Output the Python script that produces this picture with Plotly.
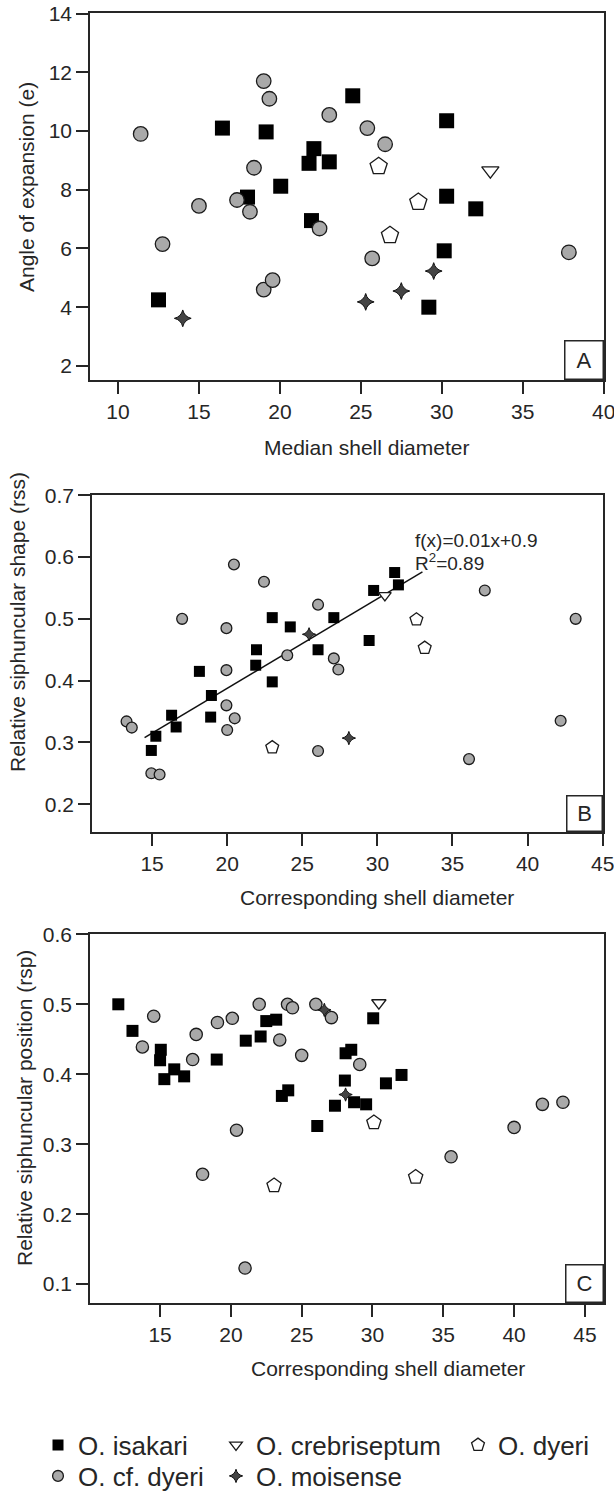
import plotly.graph_objects as go

W, H = 614, 1494
FONT = "Liberation Sans, Arial, Helvetica, sans-serif"
INK = "#262626"

SPECIES = ["O. isakari", "O. cf. dyeri", "O. dyeri", "O. crebriseptum", "O. moisense"]

# ---------------- Panel A : angle of expansion vs median shell diameter
a_isakari_x = [12.5, 16.45, 18.0, 19.15, 20.05, 21.8, 21.95, 22.1, 23.05, 24.5, 29.2, 30.15, 30.3, 30.3, 32.1]
a_isakari_y = [4.25, 10.1, 7.75, 9.97, 8.12, 8.9, 6.95, 9.4, 8.95, 11.2, 4.0, 5.92, 10.35, 7.78, 7.35]
a_cfdyeri_x = [11.4, 12.75, 15.0, 17.35, 18.15, 18.4, 19.0, 19.35, 19.0, 19.55, 22.45, 23.05, 25.4, 26.5, 25.7, 37.85]
a_cfdyeri_y = [9.9, 6.15, 7.45, 7.65, 7.25, 8.75, 11.7, 11.1, 4.6, 4.92, 6.68, 10.55, 10.1, 9.55, 5.66, 5.87]
a_dyeri_x = [26.1, 28.55, 26.8]
a_dyeri_y = [8.8, 7.58, 6.45]
a_crebri_x = [33.0]
a_crebri_y = [8.65]
a_moisense_x = [14.0, 25.3, 27.5, 29.5]
a_moisense_y = [3.62, 4.18, 4.55, 5.23]

# ---------------- Panel B : relative siphuncular shape vs corresponding shell diameter
b_isakari_x = [14.95, 15.25, 16.3, 16.6, 18.15, 18.95, 18.9, 21.95, 21.9, 23.0, 23.0, 24.2, 26.05, 27.1, 29.45, 29.75, 31.15, 31.4]
b_isakari_y = [0.287, 0.31, 0.344, 0.325, 0.415, 0.376, 0.341, 0.45, 0.425, 0.502, 0.398, 0.487, 0.45, 0.502, 0.465, 0.546, 0.575, 0.555]
b_cfdyeri_x = [13.3, 13.65, 14.95, 15.5, 17.0, 20.45, 22.45, 19.95, 19.95, 19.95, 20.5, 20.0, 24.0, 26.05, 26.05, 27.1, 27.4, 37.15, 43.2, 42.2, 36.1]
b_cfdyeri_y = [0.334, 0.324, 0.25, 0.248, 0.5, 0.588, 0.56, 0.485, 0.417, 0.36, 0.339, 0.32, 0.441, 0.523, 0.286, 0.436, 0.418, 0.546, 0.5, 0.335, 0.273]
b_dyeri_x = [23.0, 32.6, 33.15]
b_dyeri_y = [0.292, 0.499, 0.453]
b_crebri_x = [30.5]
b_crebri_y = [0.538]
b_moisense_x = [25.45, 28.1]
b_moisense_y = [0.475, 0.307]
b_fit_slope = 0.0145
b_fit_intercept = 0.0975
b_fit_x = [14.5, 33.0]
b_fit_label = ["f(x)=0.01x+0.9", "R<sup>2</sup>=0.89"]

# ---------------- Panel C : relative siphuncular position vs corresponding shell diameter
c_isakari_x = [12.05, 13.05, 15.05, 15.0, 15.3, 16.0, 16.7, 19.0, 21.05, 22.1, 22.5, 23.2, 23.6, 24.05, 26.1, 27.35, 28.05, 28.1, 28.5, 28.7, 29.55, 30.05, 30.95, 32.05]
c_isakari_y = [0.50, 0.462, 0.435, 0.42, 0.393, 0.407, 0.397, 0.421, 0.448, 0.454, 0.476, 0.478, 0.369, 0.377, 0.326, 0.355, 0.391, 0.43, 0.435, 0.36, 0.357, 0.48, 0.387, 0.399]
c_cfdyeri_x = [13.75, 14.55, 17.3, 17.55, 19.05, 20.1, 22.0, 24.0, 24.35, 23.45, 25.0, 26.0, 27.1, 29.1, 20.4, 18.0, 21.0, 35.55, 40.0, 42.0, 43.45]
c_cfdyeri_y = [0.439, 0.483, 0.421, 0.457, 0.474, 0.48, 0.50, 0.50, 0.495, 0.449, 0.427, 0.50, 0.481, 0.414, 0.32, 0.257, 0.123, 0.282, 0.324, 0.357, 0.36]
c_dyeri_x = [23.05, 30.1, 33.05]
c_dyeri_y = [0.241, 0.331, 0.253]
c_crebri_x = [30.45]
c_crebri_y = [0.502]
c_moisense_x = [26.6, 28.1]
c_moisense_y = [0.492, 0.371]

# axis ticks / titles
a_xticks = [10, 15, 20, 25, 30, 35, 40]
a_yticks = [2, 4, 6, 8, 10, 12, 14]
b_xticks = [15, 20, 25, 30, 35, 40, 45]
b_yticks = [0.2, 0.3, 0.4, 0.5, 0.6, 0.7]
c_xticks = [15, 20, 25, 30, 35, 40, 45]
c_yticks = [0.1, 0.2, 0.3, 0.4, 0.5, 0.6]
titles = {
    "A": ("Median shell diameter", "Angle of expansion (e)"),
    "B": ("Corresponding shell diameter", "Relative siphuncular shape (rss)"),
    "C": ("Corresponding shell diameter", "Relative siphuncular position (rsp)"),
}

# ---------------- styling
STYLE = {
    "O. isakari": dict(symbol="square", color="#000000", line=dict(color="#000000", width=0)),
    "O. cf. dyeri": dict(symbol="circle", color="#a9a9a9", line=dict(color="#1a1a1a", width=1.3)),
    "O. dyeri": dict(symbol="pentagon", color="#ffffff", line=dict(color="#1a1a1a", width=1.3)),
    "O. crebriseptum": dict(symbol="triangle-down", color="#ffffff", line=dict(color="#1a1a1a", width=1.3)),
    "O. moisense": dict(symbol="star-diamond", color="#444444", line=dict(color="#111111", width=1.0)),
}
SIZES = {
    "A": {"O. isakari": 15, "O. cf. dyeri": 14.5, "O. dyeri": 18, "O. crebriseptum": 15, "O. moisense": 12},
    "B": {"O. isakari": 11, "O. cf. dyeri": 10.8, "O. dyeri": 13.5, "O. crebriseptum": 11, "O. moisense": 9.5},
    "C": {"O. isakari": 12, "O. cf. dyeri": 12.3, "O. dyeri": 15, "O. crebriseptum": 12.5, "O. moisense": 9.5},
}
DATA = {
    "A": {"O. isakari": (a_isakari_x, a_isakari_y), "O. cf. dyeri": (a_cfdyeri_x, a_cfdyeri_y),
          "O. dyeri": (a_dyeri_x, a_dyeri_y), "O. crebriseptum": (a_crebri_x, a_crebri_y),
          "O. moisense": (a_moisense_x, a_moisense_y)},
    "B": {"O. isakari": (b_isakari_x, b_isakari_y), "O. cf. dyeri": (b_cfdyeri_x, b_cfdyeri_y),
          "O. dyeri": (b_dyeri_x, b_dyeri_y), "O. crebriseptum": (b_crebri_x, b_crebri_y),
          "O. moisense": (b_moisense_x, b_moisense_y)},
    "C": {"O. isakari": (c_isakari_x, c_isakari_y), "O. cf. dyeri": (c_cfdyeri_x, c_cfdyeri_y),
          "O. dyeri": (c_dyeri_x, c_dyeri_y), "O. crebriseptum": (c_crebri_x, c_crebri_y),
          "O. moisense": (c_moisense_x, c_moisense_y)},
}
LEGEND_OF = {"O. isakari": "legend", "O. crebriseptum": "legend2", "O. dyeri": "legend3",
             "O. cf. dyeri": "legend4", "O. moisense": "legend5"}

# layout geometry in pixels (left, right, top, bottom)
BOX = {"A": (90, 604, 13, 380), "B": (92, 603, 495, 832), "C": (90, 604, 934, 1303)}
AX = {"A": ("x", "y"), "B": ("x2", "y2"), "C": ("x3", "y3")}
LABEL_BOX = {"A": 37, "B": 34, "C": 36}

fig = go.Figure()

# regression line (panel B)
fig.add_trace(go.Scatter(
    x=b_fit_x, y=[b_fit_intercept + b_fit_slope * v for v in b_fit_x],
    mode="lines", line=dict(color="#111111", width=1.5),
    xaxis="x2", yaxis="y2", showlegend=False, hoverinfo="skip"))

for panel in ["A", "B", "C"]:
    xa, ya = AX[panel]
    for sp in SPECIES:
        xs, ys = DATA[panel][sp]
        st = STYLE[sp]
        fig.add_trace(go.Scatter(
            x=xs, y=ys, mode="markers", name=sp,
            marker=dict(symbol=st["symbol"], color=st["color"], line=st["line"],
                        size=SIZES[panel][sp]),
            xaxis=xa, yaxis=ya,
            showlegend=(panel == "B"), legend=LEGEND_OF[sp], legendgroup=sp))


def axis_common(ticks):
    return dict(showline=True, linecolor=INK, linewidth=1.5, mirror=True,
                ticks="outside", ticklen=12, tickwidth=1.5, tickcolor=INK,
                showgrid=False, zeroline=False, tickvals=ticks,
                ticklabeloverflow="allow",
                tickfont=dict(size=21, color=INK, family=FONT))


layout = dict(
    width=W, height=H, autosize=False,
    margin=dict(l=0, r=0, t=0, b=0, autoexpand=False),
    paper_bgcolor="white", plot_bgcolor="white",
    font=dict(family=FONT, color=INK),
)

ranges = {
    "A": ([8.27, 40.02], [1.52, 14.02]),
    "B": ([11.0, 45.02], [0.155, 0.7005]),
    "C": ([10.05, 46.35], [0.073, 0.6005]),
}
ticksets = {"A": (a_xticks, a_yticks), "B": (b_xticks, b_yticks), "C": (c_xticks, c_yticks)}
names = {"A": ("xaxis", "yaxis"), "B": ("xaxis2", "yaxis2"), "C": ("xaxis3", "yaxis3")}

for panel in ["A", "B", "C"]:
    l, r, t, b = BOX[panel]
    xn, yn = names[panel]
    xa, ya = AX[panel]
    xr, yr = ranges[panel]
    xt, yt = ticksets[panel]
    layout[xn] = dict(axis_common(xt), domain=[l / W, r / W], range=xr, anchor=ya)
    layout[yn] = dict(axis_common(yt), domain=[1 - b / H, 1 - t / H], range=yr, anchor=xa)

annotations = []
# axis titles
XT_POS = {"A": (366, 448), "B": (377, 897), "C": (388, 1368)}
YT_POS = {"A": (26, 187), "B": (17, 622), "C": (24, 1108)}
for panel in ["A", "B", "C"]:
    xt_text, yt_text = titles[panel]
    px, py = XT_POS[panel]
    annotations.append(dict(text=xt_text, x=px / W, y=1 - py / H, xref="paper", yref="paper",
                            xanchor="center", yanchor="middle", showarrow=False,
                            font=dict(size=21, color=INK, family=FONT)))
    px, py = YT_POS[panel]
    annotations.append(dict(text=yt_text, x=px / W, y=1 - py / H, xref="paper", yref="paper",
                            xanchor="center", yanchor="middle", showarrow=False, textangle=-90,
                            font=dict(size=21, color=INK, family=FONT)))
    # panel letter box
    xa, ya = AX[panel]
    bs = LABEL_BOX[panel]
    annotations.append(dict(text=panel, x=1, y=0, xref=f"{xa} domain", yref=f"{ya} domain",
                            xanchor="right", yanchor="bottom", showarrow=False,
                            width=bs, height=bs, borderpad=0, borderwidth=1.5,
                            bordercolor=INK, bgcolor="white",
                            font=dict(size=22, color=INK, family=FONT)))

# fit label
annotations.append(dict(text=b_fit_label[0], x=413 / W, y=1 - 540 / H, xref="paper", yref="paper",
                        xanchor="left", yanchor="middle", showarrow=False,
                        font=dict(size=19, color=INK, family=FONT)))
annotations.append(dict(text=b_fit_label[1], x=413 / W, y=1 - 562 / H, xref="paper", yref="paper",
                        xanchor="left", yanchor="middle", showarrow=False,
                        font=dict(size=19, color=INK, family=FONT)))
layout["annotations"] = annotations

# legends: one per entry, arranged in rows/columns
LEG_POS = {"legend": (38, 1445), "legend2": (216, 1445), "legend3": (458, 1445),
           "legend4": (38, 1476), "legend5": (216, 1476)}
for key, (lx, ly) in LEG_POS.items():
    layout[key] = dict(x=lx / W, y=1 - ly / H, xanchor="left", yanchor="middle",
                       xref="paper", yref="paper", bgcolor="rgba(0,0,0,0)",
                       font=dict(size=26, color=INK, family=FONT), itemsizing="trace")

fig.update_layout(**layout)
fig.write_html("out.html", config={"displayModeBar": False},
               post_script="document.body.style.margin='0px';document.body.style.overflow='hidden';")
